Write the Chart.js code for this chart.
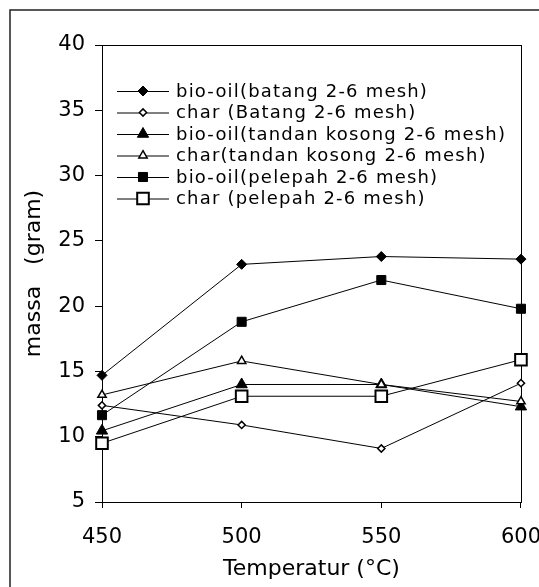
<!DOCTYPE html>
<html>
<head>
<meta charset="utf-8">
<script src="https://cdn.jsdelivr.net/npm/chart.js@4.4.1/dist/chart.umd.min.js"></script>
<style>
  html, body { margin: 0; padding: 0; background: #fff; overflow: hidden; width: 539px; height: 587px; }
  canvas { display: block; }
</style>
</head>
<body>
<canvas id="c" width="558" height="587" style="width:558px;height:587px"></canvas>
<script>
const temperatures = [450, 500, 550, 600];
const bioOilBatang  = [14.7, 23.2, 23.8, 23.6];
const charBatang    = [12.4, 10.9, 9.1, 14.1];
const bioOilTandan  = [10.45, 14.0, 14.0, 12.3];
const charTandan    = [13.2, 15.8, 14.0, 12.7];
const bioOilPelepah = [11.65, 18.8, 22.0, 19.8];
const charPelepah   = [9.5, 13.1, 13.1, 15.9];

const seriesLabels = [
  'bio-oil(batang 2-6 mesh)',
  'char (Batang 2-6 mesh)',
  'bio-oil(tandan kosong 2-6 mesh)',
  'char(tandan kosong 2-6 mesh)',
  'bio-oil(pelepah 2-6 mesh)',
  'char (pelepah 2-6 mesh)'
];
const yTicks = [5, 10, 15, 20, 25, 30, 35, 40];
const xTicks = [450, 500, 550, 600];

const FONT = "'DejaVu Sans', Verdana, sans-serif";

function pts(vals) { return temperatures.map((t, i) => ({ x: t, y: vals[i] })); }

const styles = [
  { pointStyle: 'rectRot', radius: 5,   fill: '#000', bw: 1 },
  { pointStyle: 'rectRot', radius: 3.6, fill: '#fff', bw: 1.5 },
  { pointStyle: 'triangle', radius: 6.5, fill: '#000', bw: 1 },
  { pointStyle: 'triangle', radius: 4.8, fill: '#fff', bw: 1.5 },
  { pointStyle: 'rect', radius: 6.4, fill: '#000', bw: 1 },
  { pointStyle: 'rect', radius: 8.2, fill: '#fff', bw: 2 }
];
const allSeries = [bioOilBatang, charBatang, bioOilTandan, charTandan, bioOilPelepah, charPelepah];

const datasets = allSeries.map((vals, i) => ({
  label: seriesLabels[i],
  data: pts(vals),
  borderColor: '#000',
  borderWidth: 1,
  pointStyle: styles[i].pointStyle,
  pointRadius: styles[i].radius,
  pointBackgroundColor: styles[i].fill,
  pointBorderColor: '#000',
  pointBorderWidth: styles[i].bw,
  pointHoverRadius: styles[i].radius,
  tension: 0,
  fill: false,
  clip: false,
  order: 6 - i
}));

const framePlugin = {
  id: 'frame',
  beforeDraw(chart) {
    const ctx = chart.ctx;
    ctx.save();
    ctx.fillStyle = '#fff';
    ctx.fillRect(0, 0, chart.width, chart.height);
    ctx.strokeStyle = '#222';
    ctx.lineWidth = 1.5;
    ctx.beginPath();
    ctx.moveTo(10, chart.height + 5);
    ctx.lineTo(10, 10);
    ctx.lineTo(chart.width + 5, 10);
    ctx.stroke();
    ctx.restore();
  },
  beforeDatasetsDraw(chart) {
    const a = chart.chartArea;
    const ctx = chart.ctx;
    ctx.save();
    ctx.strokeStyle = '#000';
    ctx.lineWidth = 1;
    ctx.strokeRect(Math.round(a.left) + 0.5, Math.round(a.top) + 0.5, Math.round(a.right - a.left), Math.round(a.bottom - a.top));
    ctx.restore();
  },
  afterDraw(chart) {
    const ctx = chart.ctx;
    ctx.save();
    const x0 = 117, x1 = 169, xm = 143, tx = 176;
    const y0 = 91, step = 21.5;
    ctx.font = '18px ' + FONT;
    try { ctx.letterSpacing = '1.2px'; } catch (e) {}
    ctx.textBaseline = 'middle';
    ctx.textAlign = 'left';
    chart.data.datasets.forEach((ds, i) => {
      const y = y0 + i * step;
      ctx.strokeStyle = '#000';
      ctx.lineWidth = 1;
      ctx.beginPath();
      ctx.moveTo(x0, y + 0.5);
      ctx.lineTo(x1, y + 0.5);
      ctx.stroke();
      ctx.fillStyle = ds.pointBackgroundColor;
      ctx.strokeStyle = '#000';
      ctx.lineWidth = ds.pointBorderWidth;
      Chart.helpers.drawPoint(ctx, { pointStyle: ds.pointStyle, radius: ds.pointRadius, rotation: 0, borderWidth: ds.pointBorderWidth }, xm, y);
      ctx.fillStyle = '#000';
      ctx.fillText(ds.label, tx, y + 1);
    });
    ctx.restore();
  }
};

new Chart(document.getElementById('c'), {
  type: 'line',
  data: { datasets },
  options: {
    responsive: false,
    animation: false,
    devicePixelRatio: 1,
    layout: { padding: { top: 45, left: 0, right: 0, bottom: 0 } },
    plugins: { legend: { display: false }, tooltip: { enabled: false } },
    scales: {
      x: {
        type: 'linear',
        min: 450, max: 600,
        afterBuildTicks(scale) { scale.ticks = xTicks.map(v => ({ value: v })); },
        afterFit(scale) { scale.height = 85; },
        ticks: { color: '#000', font: { family: FONT, size: 21 }, padding: 17, maxRotation: 0 },
        grid: { display: true, drawOnChartArea: false, drawTicks: true, tickLength: 6, color: '#000', lineWidth: 1 },
        border: { display: true, color: '#000', width: 1 },
        title: { display: true, text: 'Temperatur (°C)', color: '#000', font: { family: FONT, size: 22 }, padding: { top: 5, bottom: 5 } }
      },
      y: {
        min: 5, max: 40,
        afterBuildTicks(scale) { scale.ticks = yTicks.map(v => ({ value: v })); },
        afterFit(scale) { scale.width = 102; },
        ticks: { color: '#000', font: { family: FONT, size: 21 }, padding: 10 },
        grid: { display: true, drawOnChartArea: false, drawTicks: true, tickLength: 7, color: '#000', lineWidth: 1 },
        border: { display: true, color: '#000', width: 1 },
        title: { display: true, text: 'massa   (gram)', color: '#000', font: { family: FONT, size: 22 }, padding: { top: 21, bottom: 21 } }
      }
    }
  },
  plugins: [framePlugin]
});
</script>
</body>
</html>
